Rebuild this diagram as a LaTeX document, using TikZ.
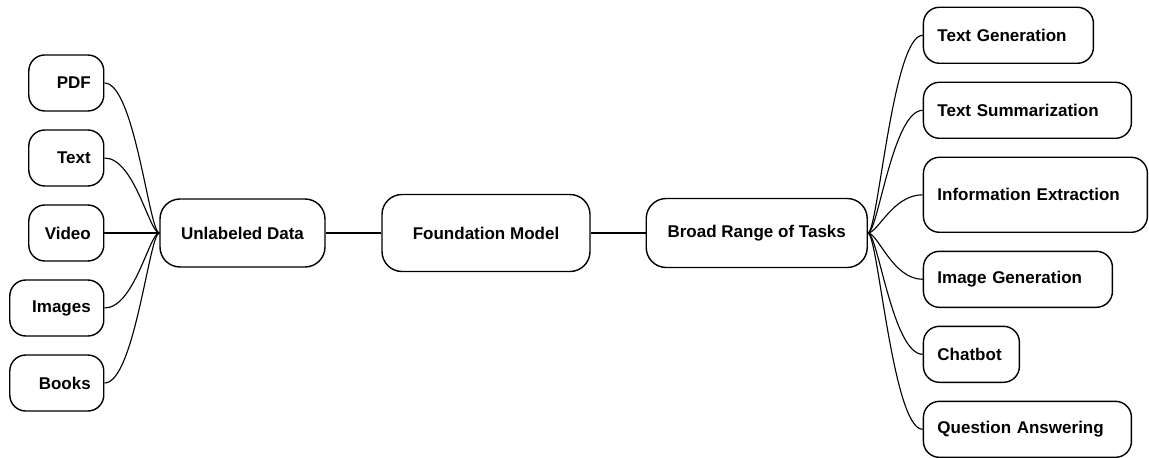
\documentclass[tikz,border=0pt]{standalone}
\usepackage{fontspec}
\setmainfont{Liberation Sans}
\usetikzlibrary{positioning}

\begin{document}
\begin{tikzpicture}[
        node distance=1.37cm,
        every node/.style={font=\fontsize{12.1}{14}\selectfont\bfseries},
        srcbox/.style={rectangle, draw, line width=1pt, rounded corners=0.4cm, minimum height=1.4cm, inner xsep=0.325cm, align=right},
        hubbox/.style={rectangle, draw, line width=1pt, rounded corners=0.5cm, align=center},
        taskbox/.style={rectangle, draw, line width=1pt, rounded corners=0.4cm, minimum height=1.4cm, inner xsep=0.35cm, align=left},
        link/.style={line width=0.8pt},
        fanin/.style={out=0, in=180, out distance=0.75cm, in distance=0.25cm},
        fanout/.style={out=0, in=180, out distance=0.25cm, in distance=0.75cm}
    ]
        \fill[white] (0,0) rectangle (28.725,11.425);
        \useasboundingbox (0,0) rectangle (28.725,11.425);

        % Centre chain
        \node[hubbox, minimum width=4.125cm, minimum height=1.7cm] (unlabeled) at (6.0625,5.6) {Unlabeled Data};
        \node[hubbox, minimum width=5.2cm, minimum height=1.925cm, right=1.39cm of unlabeled] (foundation) {Foundation Model};
        \node[hubbox, minimum width=5.525cm, minimum height=1.725cm, right=of foundation] (tasks) {Broad Range of Tasks};

        % Data sources
        \node[srcbox, text width=1.225cm, left=of unlabeled] (video) {Video};
        \node[srcbox, text width=1.225cm, above=0.44cm of video.north east, anchor=south east] (text) {Text};
        \node[srcbox, text width=1.225cm, above=0.44cm of text.north east, anchor=south east] (pdf) {PDF};
        \node[srcbox, text width=1.7cm, below=0.44cm of video.south east, anchor=north east] (images) {Images};
        \node[srcbox, text width=1.7cm, below=0.44cm of images.south east, anchor=north east] (books) {Books};

        % Tasks
        \node[taskbox, text width=4.9cm, minimum height=1.875cm, anchor=south west] (extract) at ([xshift=1.37cm]tasks.east) {Information Extraction};
        \node[taskbox, text width=4.5cm, above=0.44cm of extract.north west, anchor=south west] (summ) {Text Summarization};
        \node[taskbox, text width=3.55cm, above=0.44cm of summ.north west, anchor=south west] (textgen) {Text Generation};
        \node[taskbox, text width=4.025cm, below=0.44cm of extract.south west, anchor=north west] (imagegen) {Image Generation};
        \node[taskbox, text width=1.7cm, below=0.44cm of imagegen.south west, anchor=north west] (chatbot) {Chatbot};
        \node[taskbox, text width=4.5cm, below=0.44cm of chatbot.south west, anchor=north west] (qa) {Question Answering};

        % Connectors
        \draw[link] (pdf.east) to[fanin] (unlabeled.west);
        \draw[link] (text.east) to[fanin] (unlabeled.west);
        \draw[link] (video) -- (unlabeled);
        \draw[link] (images.east) to[fanin] (unlabeled.west);
        \draw[link] (books.east) to[fanin] (unlabeled.west);
        \draw[link] (unlabeled) -- (foundation);
        \draw[link] (foundation) -- (tasks);
        \draw[link] (tasks.east) to[fanout] (textgen.west);
        \draw[link] (tasks.east) to[fanout] (summ.west);
        \draw[link] (tasks.east) to[fanout] (extract.west);
        \draw[link] (tasks.east) to[fanout] (imagegen.west);
        \draw[link] (tasks.east) to[fanout] (chatbot.west);
        \draw[link] (tasks.east) to[fanout] (qa.west);
    \end{tikzpicture}
\end{document}
